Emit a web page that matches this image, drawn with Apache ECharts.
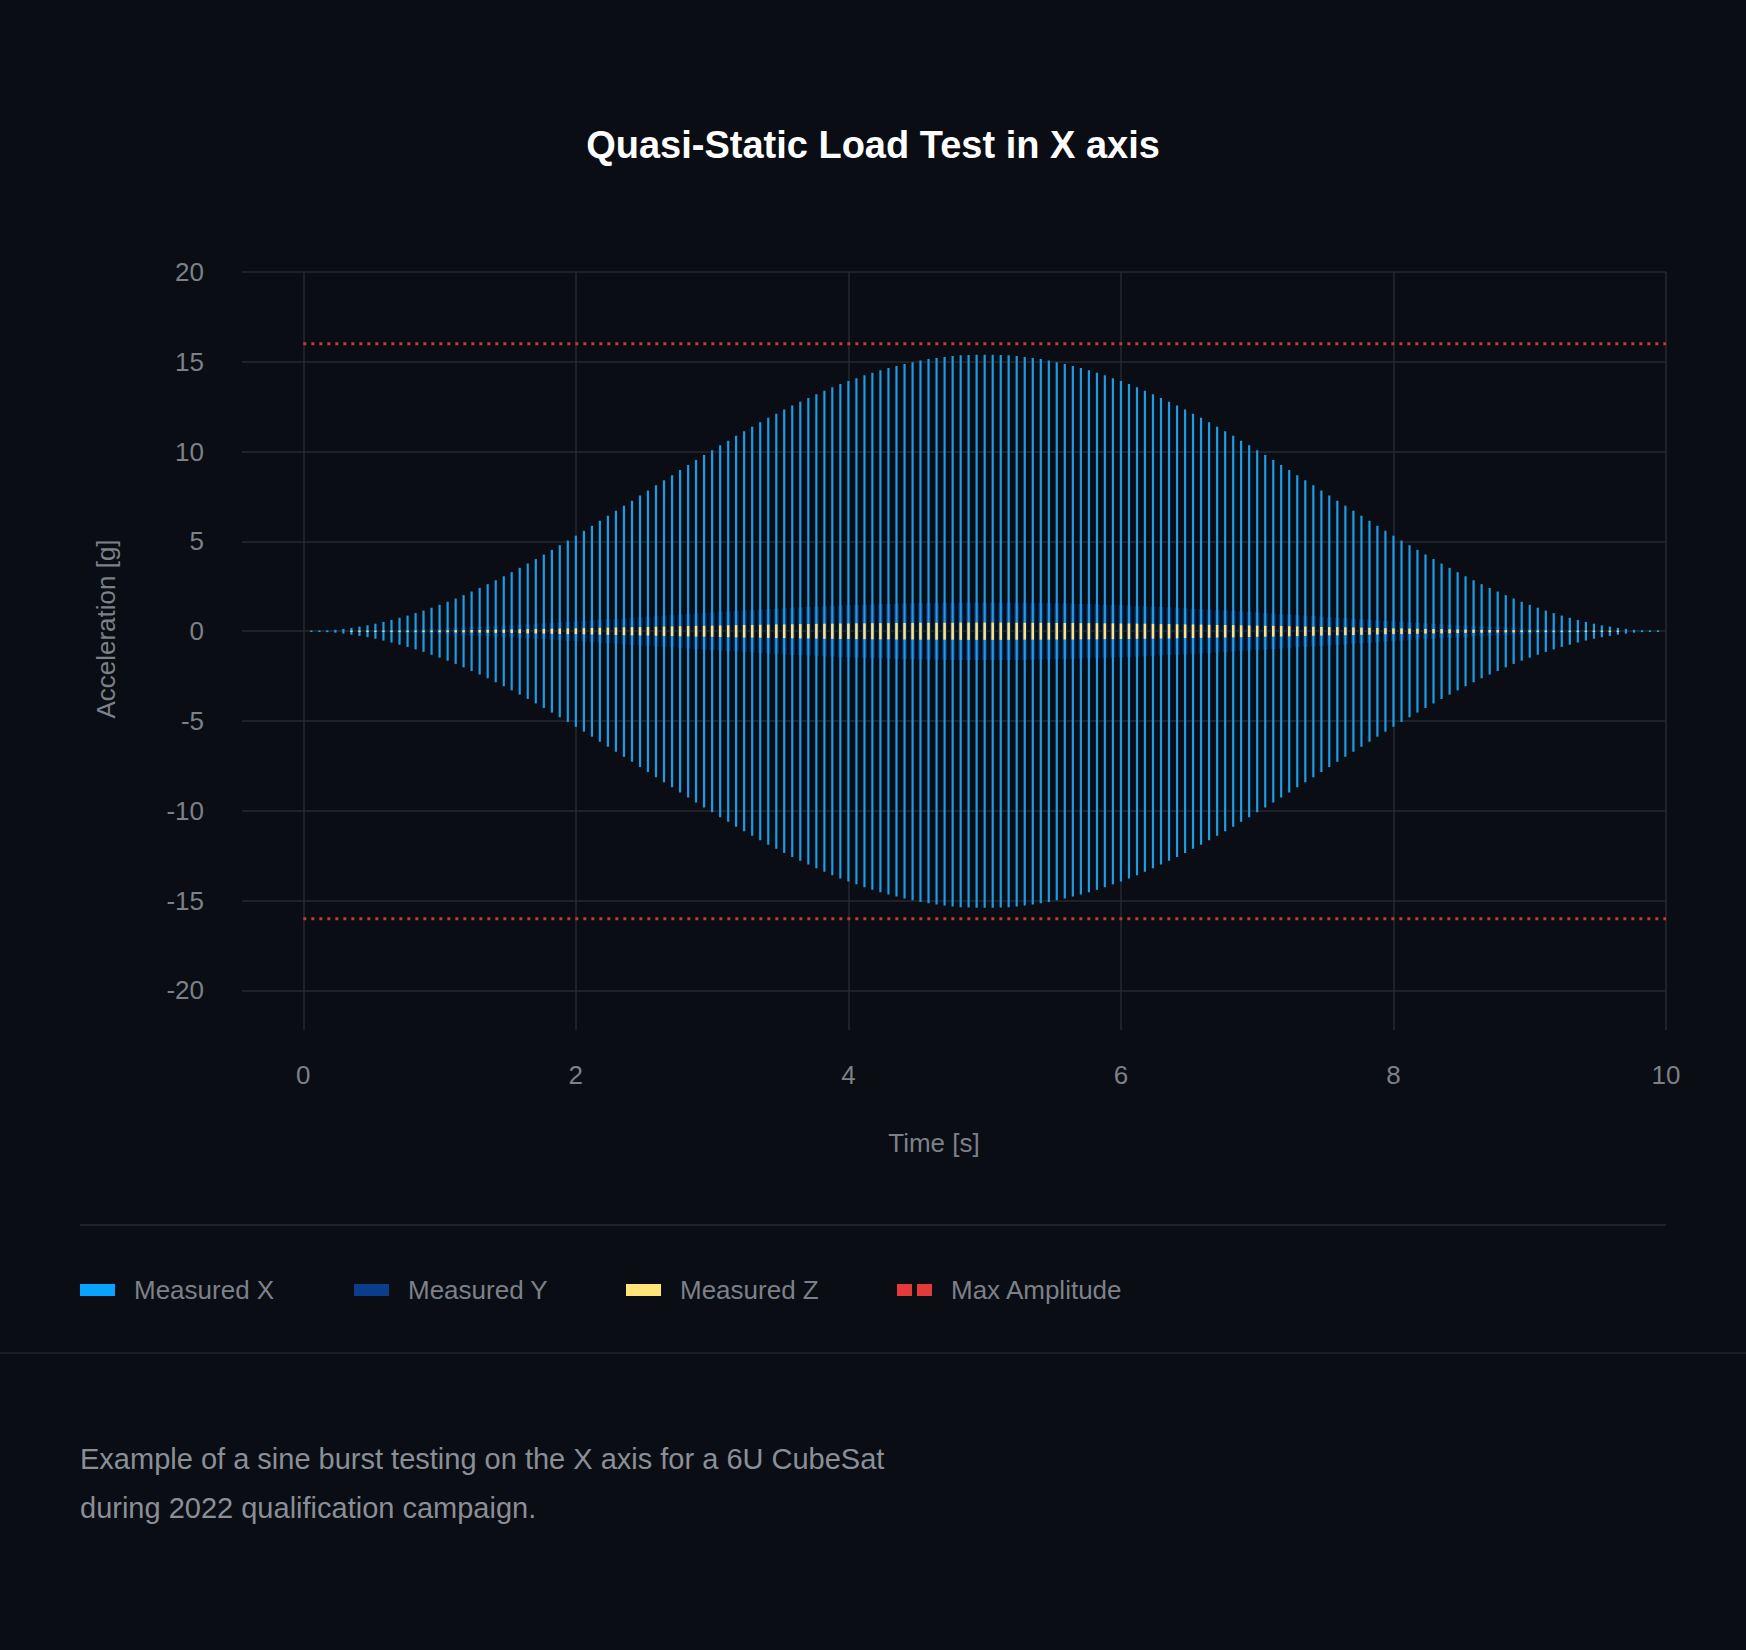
<!DOCTYPE html>
<html>
<head>
<meta charset="utf-8">
<script src="https://cdn.jsdelivr.net/npm/echarts@6/dist/echarts.min.js"></script>
<style>
html,body{margin:0;padding:0;background:#0a0d13;}
#chart{width:1746px;height:1650px;}
</style>
</head>
<body>
<div id="chart"></div>
<script>
// ---- data ----
const titleText = 'Quasi-Static Load Test in X axis';
const xAxisName = 'Time [s]';
const yAxisName = 'Acceleration [g]';
const footnoteLines = [
  'Example of a sine burst testing on the X axis for a 6U CubeSat',
  'during 2022 qualification campaign.'
];
const seriesNames = ['Measured X', 'Measured Y', 'Measured Z', 'Max Amplitude'];
const xTicks = [0, 2, 4, 6, 8, 10];
const yTicks = [-20, -15, -10, -5, 0, 5, 10, 15, 20];
const maxAmplitude = 16;

// time of each oscillation peak-to-peak stroke [s]
const times = [
  0.059,0.118,0.176,0.235,0.294,0.353,0.412,0.471,0.529,0.588,0.647,0.706,0.765,0.824,0.882,0.941,1.000,
  1.059,1.118,1.176,1.235,1.294,1.353,1.412,1.471,1.529,1.588,1.647,1.706,1.765,1.824,1.882,1.941,2.000,
  2.059,2.118,2.176,2.235,2.294,2.353,2.412,2.471,2.529,2.588,2.647,2.706,2.765,2.824,2.882,2.941,3.000,
  3.059,3.118,3.176,3.235,3.294,3.353,3.412,3.471,3.529,3.588,3.647,3.706,3.765,3.824,3.882,3.941,4.000,
  4.059,4.118,4.176,4.235,4.294,4.353,4.412,4.471,4.529,4.588,4.647,4.706,4.765,4.824,4.882,4.941,5.000,
  5.059,5.118,5.176,5.235,5.294,5.353,5.412,5.471,5.529,5.588,5.647,5.706,5.765,5.824,5.882,5.941,6.000,
  6.059,6.118,6.176,6.235,6.294,6.353,6.412,6.471,6.529,6.588,6.647,6.706,6.765,6.824,6.882,6.941,7.000,
  7.059,7.118,7.176,7.235,7.294,7.353,7.412,7.471,7.529,7.588,7.647,7.706,7.765,7.824,7.882,7.941,8.000,
  8.059,8.118,8.176,8.235,8.294,8.353,8.412,8.471,8.529,8.588,8.647,8.706,8.765,8.824,8.882,8.941,9.000,
  9.059,9.118,9.176,9.235,9.294,9.353,9.412,9.471,9.529,9.588,9.647,9.706,9.765,9.824,9.882,9.941
];

// amplitude (g) of each stroke, Measured X
const measuredX = [
  0.01,0.02,0.05,0.08,0.13,0.19,0.26,0.33,0.42,0.52,
  0.63,0.75,0.87,1.01,1.15,1.31,1.47,1.64,1.82,2.01,
  2.21,2.41,2.62,2.84,3.06,3.29,3.53,3.77,4.02,4.27,
  4.53,4.79,5.05,5.32,5.59,5.87,6.15,6.43,6.71,6.99,
  7.27,7.56,7.84,8.13,8.41,8.69,8.98,9.26,9.53,9.81,
  10.08,10.35,10.61,10.88,11.13,11.39,11.63,11.88,12.11,12.34,
  12.57,12.78,12.99,13.20,13.39,13.58,13.76,13.93,14.09,14.25,
  14.39,14.53,14.66,14.77,14.88,14.98,15.07,15.15,15.21,15.27,
  15.32,15.36,15.38,15.40,15.40,
  15.40,15.38,15.36,15.32,
  15.27,15.21,15.15,15.07,14.98,14.88,14.77,14.66,14.53,14.39,
  14.25,14.09,13.93,13.76,13.58,13.39,13.20,12.99,12.78,12.57,
  12.34,12.11,11.88,11.63,11.39,11.13,10.88,10.61,10.35,10.08,
  9.81,9.53,9.26,8.98,8.69,8.41,8.13,7.84,7.56,7.27,
  6.99,6.71,6.43,6.15,5.87,5.59,5.32,5.05,4.79,4.53,
  4.27,4.02,3.77,3.53,3.29,3.06,2.84,2.62,2.41,2.21,
  2.01,1.82,1.64,1.47,1.31,1.15,1.01,0.87,0.75,0.63,
  0.52,0.42,0.33,0.26,0.19,0.13,0.08,0.05,0.02,0.01
];

// amplitude (g) of each stroke, Measured Y
const measuredY = [
  0.00,0.00,0.01,0.01,0.01,0.02,0.03,0.03,0.04,0.05,
  0.07,0.08,0.09,0.11,0.12,0.14,0.15,0.17,0.19,0.21,
  0.23,0.25,0.27,0.30,0.32,0.34,0.37,0.39,0.42,0.44,
  0.47,0.50,0.53,0.55,0.58,0.61,0.64,0.67,0.70,0.73,
  0.76,0.79,0.82,0.85,0.87,0.90,0.93,0.96,0.99,1.02,
  1.05,1.08,1.10,1.13,1.16,1.18,1.21,1.24,1.26,1.28,
  1.31,1.33,1.35,1.37,1.39,1.41,1.43,1.45,1.47,1.48,
  1.50,1.51,1.52,1.54,1.55,1.56,1.57,1.58,1.58,1.59,
  1.59,1.60,1.60,1.60,1.60,
  1.60,1.60,1.60,1.59,
  1.59,1.58,1.58,1.57,1.56,1.55,1.54,1.52,1.51,1.50,
  1.48,1.47,1.45,1.43,1.41,1.39,1.37,1.35,1.33,1.31,
  1.28,1.26,1.24,1.21,1.18,1.16,1.13,1.10,1.08,1.05,
  1.02,0.99,0.96,0.93,0.90,0.87,0.85,0.82,0.79,0.76,
  0.73,0.70,0.67,0.64,0.61,0.58,0.55,0.53,0.50,0.47,
  0.44,0.42,0.39,0.37,0.34,0.32,0.30,0.27,0.25,0.23,
  0.21,0.19,0.17,0.15,0.14,0.12,0.11,0.09,0.08,0.07,
  0.05,0.04,0.03,0.03,0.02,0.01,0.01,0.01,0.00,0.00
];

// amplitude (g) of each stroke, Measured Z
const measuredZ = [
  0.00,0.00,0.00,0.00,0.00,0.01,0.01,0.01,0.01,0.02,
  0.02,0.02,0.03,0.03,0.04,0.04,0.05,0.05,0.06,0.06,
  0.07,0.07,0.08,0.09,0.09,0.10,0.11,0.12,0.12,0.13,
  0.14,0.15,0.16,0.16,0.17,0.18,0.19,0.20,0.21,0.22,
  0.23,0.23,0.24,0.25,0.26,0.27,0.28,0.29,0.30,0.30,
  0.31,0.32,0.33,0.34,0.35,0.35,0.36,0.37,0.38,0.38,
  0.39,0.40,0.40,0.41,0.42,0.42,0.43,0.43,0.44,0.44,
  0.45,0.45,0.45,0.46,0.46,0.46,0.47,0.47,0.47,0.47,
  0.47,0.48,0.48,0.48,0.48,
  0.48,0.48,0.48,0.47,
  0.47,0.47,0.47,0.47,0.46,0.46,0.46,0.45,0.45,0.45,
  0.44,0.44,0.43,0.43,0.42,0.42,0.41,0.40,0.40,0.39,
  0.38,0.38,0.37,0.36,0.35,0.35,0.34,0.33,0.32,0.31,
  0.30,0.30,0.29,0.28,0.27,0.26,0.25,0.24,0.23,0.23,
  0.22,0.21,0.20,0.19,0.18,0.17,0.16,0.16,0.15,0.14,
  0.13,0.12,0.12,0.11,0.10,0.09,0.09,0.08,0.07,0.07,
  0.06,0.06,0.05,0.05,0.04,0.04,0.03,0.03,0.02,0.02,
  0.02,0.01,0.01,0.01,0.01,0.00,0.00,0.00,0.00,0.00
];

// ---- rendering ----
const FONT = "'Liberation Sans', Arial, sans-serif";
const TXT = '#7c8189';
const GRIDC = '#262a31';

function pairs(ts, vs) { return ts.map((t, i) => [t, vs[i]]); }

function strokeRenderer(color, width, minHalf) {
  return function (params, api) {
    const t = api.value(0), a = api.value(1);
    if (!(a > 0)) return null;
    const top = api.coord([t, a]);
    const bot = api.coord([t, -a]);
    let y1 = top[1], y2 = bot[1];
    if (y2 - y1 < 2 * minHalf) { const c = (y1 + y2) / 2; y1 = c - minHalf; y2 = c + minHalf; }
    return { type: 'line', shape: { x1: top[0], y1: y1, x2: top[0], y2: y2 },
             style: { stroke: color, lineWidth: width } };
  };
}

const chart = echarts.init(document.getElementById('chart'), null, { renderer: 'svg' });

function legendAt(name, left, color, icon) {
  return {
    data: [{ name: name, icon: icon, itemStyle: { color: color, borderWidth: 0 } }],
    left: left, top: 1277, padding: 0,
    itemWidth: 35, itemHeight: 12, selectedMode: false,
    textStyle: { color: TXT, fontSize: 26, fontFamily: FONT, padding: [0, 0, 0, 14] }
  };
}

const option = {
  backgroundColor: '#0a0d13',
  animation: false,
  grid: { left: 242, right: 80, top: 272, bottom: 620, containLabel: false },
  xAxis: {
    type: 'value', min: -0.45, max: 10,
    axisLine: { show: false },
    axisTick: { show: false, customValues: xTicks },
    axisLabel: { customValues: xTicks, color: TXT, fontSize: 26, fontFamily: FONT, margin: 32 },
    splitLine: { show: true, lineStyle: { color: GRIDC, width: 1.5 } }
  },
  yAxis: {
    type: 'value', min: -22.2, max: 20,
    axisLine: { show: false },
    axisTick: { show: false, customValues: yTicks },
    axisLabel: { customValues: yTicks, color: TXT, fontSize: 26, fontFamily: FONT, margin: 38 },
    splitLine: { show: true, lineStyle: { color: GRIDC, width: 1.5 } }
  },
  legend: [
    legendAt(seriesNames[0], 80, '#0aa2ff', 'rect'),
    legendAt(seriesNames[1], 354, '#0b3d8c', 'rect'),
    legendAt(seriesNames[2], 626, '#ffe47a', 'rect'),
    legendAt(seriesNames[3], 897, '#e53a3a', 'path://M0,0h15v12h-15z M20,0h15v12h-15z')
  ],
  series: [
    { name: seriesNames[1], type: 'custom', z: 2, itemStyle: { color: '#0b3d8c' },
      renderItem: strokeRenderer('#0c2c60', 5, 0.5), data: pairs(times, measuredY) },
    { name: seriesNames[0], type: 'custom', z: 3, itemStyle: { color: '#0aa2ff' },
      renderItem: strokeRenderer('#1c9be6', 2.2, 0.8), data: pairs(times, measuredX) },
    { name: seriesNames[2], type: 'custom', z: 4, itemStyle: { color: '#ffe47a' },
      renderItem: strokeRenderer('#ffe47a', 2.5, 0.6), data: pairs(times, measuredZ) },
    { name: seriesNames[3], type: 'line', z: 5, symbol: 'none', itemStyle: { color: '#e53a3a' },
      lineStyle: { color: '#c23a3a', width: 3, type: [3, 5] },
      data: [[0, maxAmplitude], [10, maxAmplitude]] },
    { name: seriesNames[3], type: 'line', z: 5, symbol: 'none', itemStyle: { color: '#e53a3a' },
      lineStyle: { color: '#c23a3a', width: 3, type: [3, 5] },
      data: [[0, -maxAmplitude], [10, -maxAmplitude]] }
  ],
  graphic: [
    { type: 'text', left: 'center', top: 126,
      style: { text: titleText, fill: '#ffffff', font: 'bold 38px ' + FONT } },
    { type: 'text', x: 934, y: 1143,
      style: { text: xAxisName, fill: TXT, font: '26px ' + FONT, textAlign: 'center', textVerticalAlign: 'middle' } },
    { type: 'text', x: 106, y: 629, rotation: Math.PI / 2,
      style: { text: yAxisName, fill: TXT, font: '26px ' + FONT, textAlign: 'center', textVerticalAlign: 'middle' } },
    { type: 'line', shape: { x1: 80, y1: 1225, x2: 1666, y2: 1225 }, style: { stroke: '#1e2229', lineWidth: 2 } },
    { type: 'line', shape: { x1: 0, y1: 1353, x2: 1746, y2: 1353 }, style: { stroke: '#1a1e25', lineWidth: 2 } },
    { type: 'text', x: 80, y: 1459,
      style: { text: footnoteLines[0], fill: '#8a8f97', font: '29px ' + FONT, textAlign: 'left', textVerticalAlign: 'middle' } },
    { type: 'text', x: 80, y: 1508,
      style: { text: footnoteLines[1], fill: '#8a8f97', font: '29px ' + FONT, textAlign: 'left', textVerticalAlign: 'middle' } }
  ]
};
chart.setOption(option);
</script>
</body>
</html>
